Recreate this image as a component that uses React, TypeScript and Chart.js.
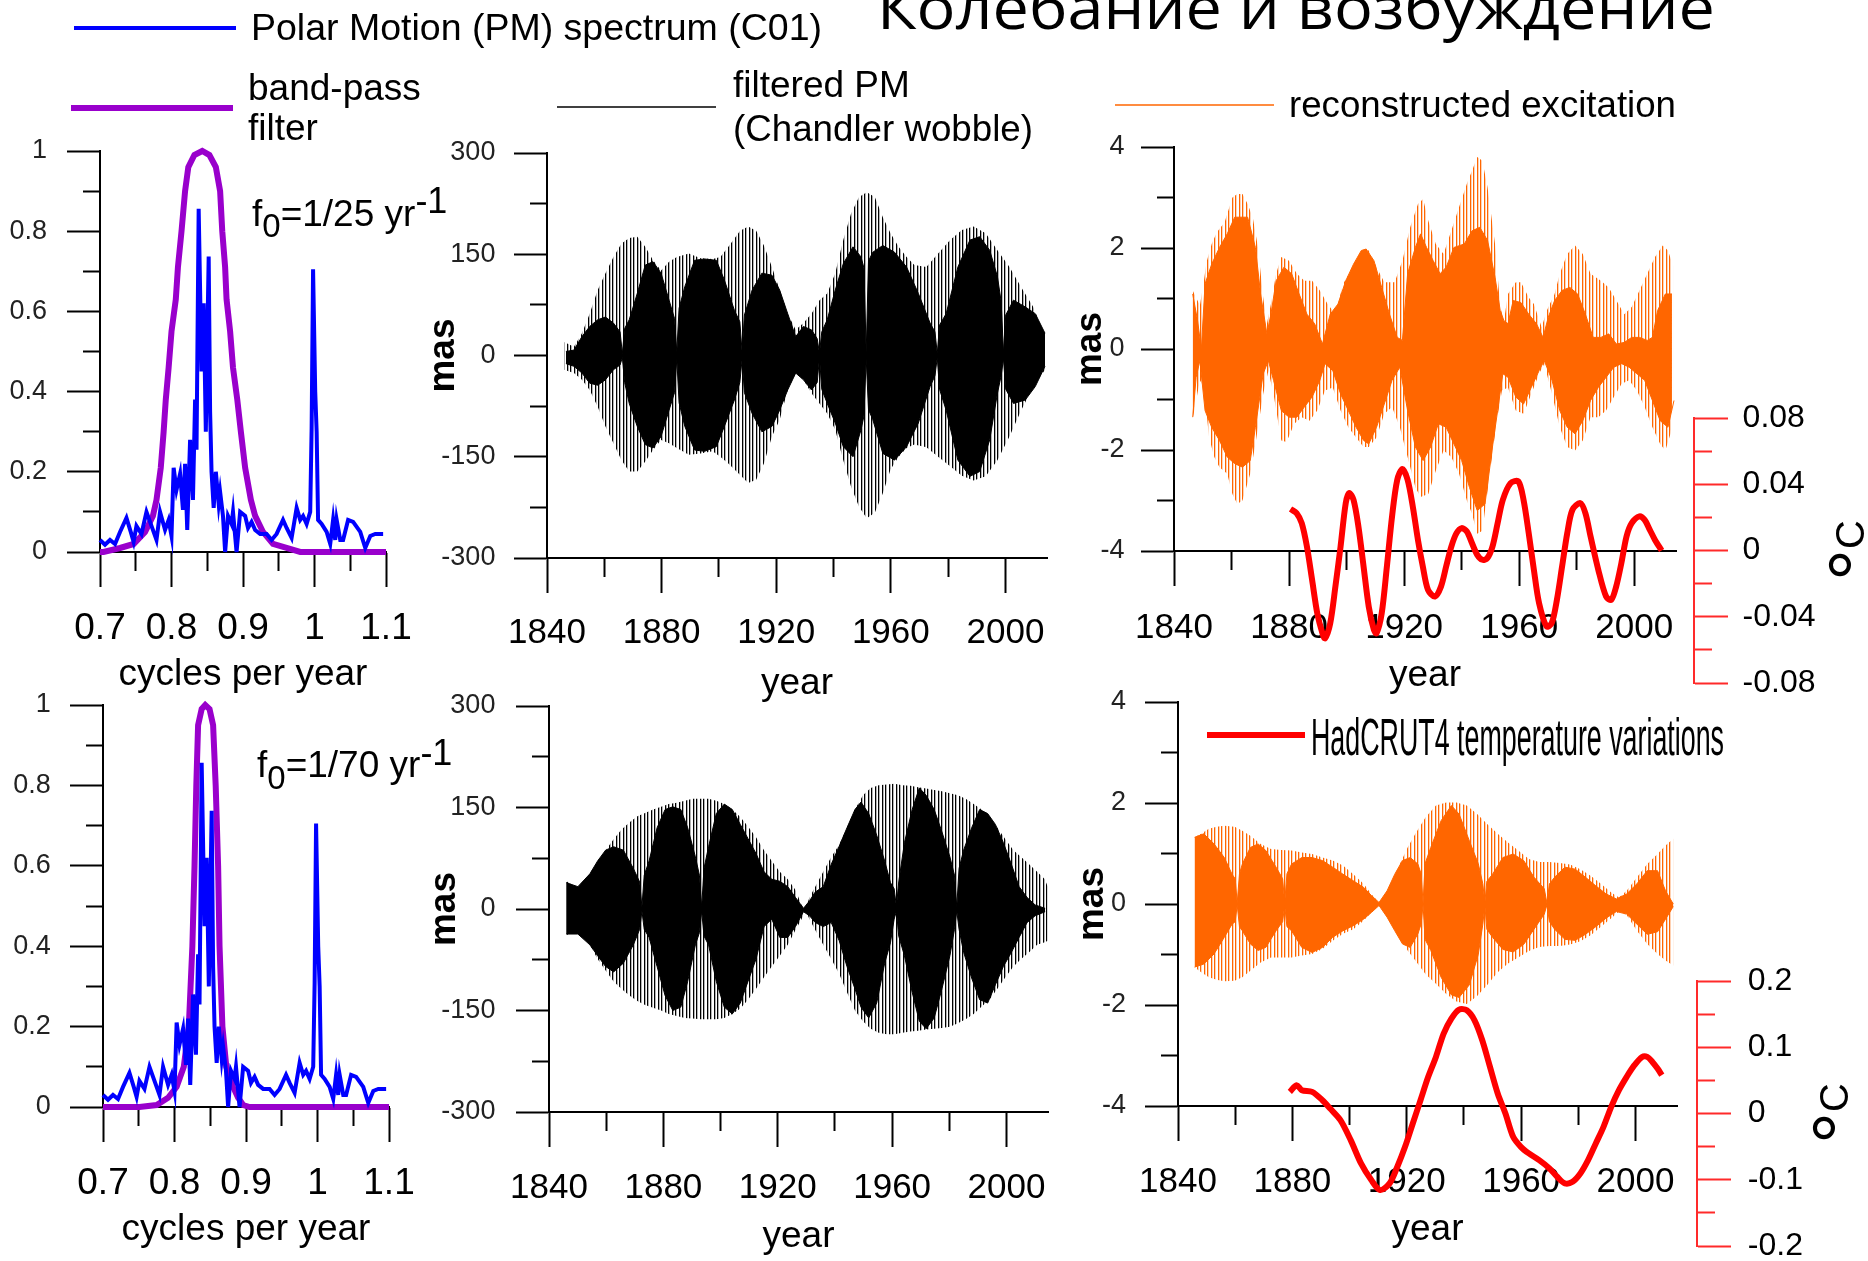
import React, { useEffect, useRef } from 'react';
import { Chart, registerables } from 'chart.js';

Chart.register(...registerables);

// ================= DATA =================
// Polar motion spectrum (shared by both spectrum panels)
const spectrumFreq = [0.700,0.707,0.714,0.721,0.728,0.737,0.743,0.747,0.751,0.758,0.765,0.772,0.779,0.784,0.791,0.796,0.800,0.803,0.807,0.812,0.816,0.819,0.822,0.826,0.830,0.833,0.835,0.838,0.842,0.845,0.848,0.852,0.854,0.856,0.859,0.862,0.866,0.868,0.872,0.875,0.879,0.884,0.886,0.891,0.896,0.903,0.907,0.912,0.917,0.924,0.933,0.940,0.947,0.956,0.961,0.968,0.975,0.980,0.984,0.989,0.994,0.996,0.998,1.001,1.003,1.005,1.010,1.017,1.022,1.026,1.029,1.031,1.036,1.040,1.047,1.054,1.064,1.071,1.078,1.085,1.096];
const spectrumPower = [0.03,0.018,0.03,0.02,0.05,0.085,0.05,0.025,0.065,0.045,0.1,0.065,0.03,0.1,0.055,0.08,0.04,0.21,0.155,0.195,0.105,0.22,0.055,0.28,0.13,0.38,0.255,0.856,0.45,0.62,0.3,0.737,0.35,0.2,0.11,0.2,0.12,0.15,0.09,0.0,0.09,0.07,0.1,0.0,0.1,0.09,0.06,0.075,0.055,0.045,0.045,0.03,0.045,0.08,0.06,0.035,0.11,0.08,0.09,0.07,0.1,0.31,0.705,0.4,0.3,0.08,0.07,0.05,0.02,0.08,0.03,0.08,0.03,0.03,0.08,0.075,0.05,0.01,0.04,0.045,0.045];

// band-pass filters
const filter25Freq = [0.700,0.705,0.728,0.747,0.763,0.774,0.779,0.785,0.789,0.792,0.796,0.800,0.806,0.809,0.814,0.819,0.8235,0.832,0.843,0.853,0.862,0.868,0.871,0.875,0.877,0.882,0.886,0.892,0.897,0.903,0.911,0.917,0.928,0.942,0.961,0.980,1.100];
const filter25Gain = [0,0,0.01,0.02,0.05,0.09,0.13,0.21,0.30,0.38,0.46,0.55,0.63,0.71,0.80,0.90,0.96,0.99,1.0,0.99,0.96,0.90,0.80,0.71,0.63,0.55,0.46,0.38,0.30,0.21,0.13,0.09,0.05,0.02,0.01,0,0];
const filter70Freq = [0.700,0.751,0.775,0.791,0.803,0.813,0.820,0.825,0.828,0.8305,0.833,0.838,0.843,0.849,0.854,0.8576,0.861,0.863,0.867,0.8725,0.882,0.889,0.896,0.905,1.100];
const filter70Gain = [0,0,0.005,0.023,0.05,0.1,0.2,0.4,0.6,0.8,0.95,0.99,1.0,0.99,0.95,0.8,0.6,0.4,0.2,0.1,0.05,0.023,0.005,0,0];

// filtered PM, f0 = 1/25 (outer hatched envelope, inner solid envelope), mas
const pm25OuterYears = [1845.9,1849.4,1852.2,1854.9,1857.7,1860.4,1863.2,1866.0,1868.7,1871.5,1874.3,1877.0,1879.8,1882.6,1885.3,1889.5,1893.6,1897.8,1900.5,1903.3,1907.4,1910.2,1913.0,1915.7,1918.5,1921.2,1924.0,1926.8,1929.5,1932.3,1935.1,1937.8,1940.6,1943.4,1946.1,1948.9,1951.6,1954.4,1957.2,1959.9,1962.7,1965.5,1968.2,1972.4,1976.5,1980.7,1984.8,1988.9,1993.1,1997.2,2001.4,2005.5,2009.7,2013.8];
const pm25OuterHigh = [20,13,33,62,97,122,146,166,174,176,161,141,126,139,146,151,144,143,146,161,185,191,185,163,131,97,62,38,48,62,82,92,122,171,210,235,242,235,205,181,161,146,134,131,151,171,186,191,181,156,131,101,72,28];
const pm25OuterLow = [-21,-26,-36,-51,-76,-105,-130,-155,-172,-172,-157,-140,-125,-130,-137,-147,-145,-142,-150,-160,-177,-189,-184,-160,-120,-95,-51,-26,-36,-56,-71,-86,-110,-155,-194,-224,-241,-233,-204,-169,-150,-137,-132,-136,-150,-164,-178,-185,-179,-155,-120,-81,-46,-21];
const pm25InnerYears = [1846.6,1849.4,1852.2,1854.9,1857.7,1860.4,1863.2,1865.5,1866.3,1867.1,1868.7,1871.5,1874.3,1877.0,1879.8,1882.6,1884.5,1885.3,1886.1,1888.1,1891.5,1895.0,1899.1,1901.9,1905.4,1907.3,1908.1,1908.9,1911.6,1915.0,1918.5,1921.2,1924.0,1926.8,1929.5,1932.3,1934.3,1935.1,1935.9,1937.8,1940.6,1943.4,1946.8,1949.6,1950.6,1951.4,1952.2,1953.7,1957.2,1961.3,1965.5,1969.6,1973.7,1975.4,1976.2,1977.0,1979.3,1983.4,1987.6,1991.0,1994.5,1997.2,1998.5,1999.3,2000.1,2002.8,2006.9,2010.4,2013.8];
const pm25InnerHigh = [6,8,28,43,53,57,48,35,3,40,53,92,134,139,122,82,55,5,70,102,141,143,141,112,67,50,5,60,97,122,119,97,62,28,43,38,25,3,35,53,97,136,161,146,130,5,140,153,163,153,131,92,48,35,3,45,62,131,171,176,156,117,80,5,60,82,72,62,33];
const pm25InnerLow = [-12,-16,-26,-41,-44,-36,-21,-14,-3,-40,-71,-105,-132,-137,-120,-81,-55,-5,-70,-105,-140,-142,-135,-105,-66,-40,-5,-55,-86,-113,-105,-81,-51,-26,-36,-51,-40,-3,-50,-71,-100,-135,-150,-110,-90,-5,-80,-95,-145,-155,-135,-100,-46,-30,-3,-50,-81,-155,-179,-172,-125,-56,-30,-5,-50,-71,-66,-46,-16];

// filtered PM, f0 = 1/70, mas
const pm70OuterYears = [1846.0,1848.0,1850.1,1852.2,1854.3,1857.0,1859.8,1862.6,1865.3,1868.1,1870.9,1873.6,1876.4,1879.2,1881.9,1884.7,1887.5,1890.2,1893.0,1895.8,1898.5,1901.3,1904.1,1906.9,1909.6,1912.4,1915.2,1917.9,1920.7,1923.5,1926.2,1928.3,1929.7,1931.1,1933.1,1935.9,1938.7,1941.5,1944.2,1947.0,1949.8,1952.5,1955.3,1958.1,1960.8,1963.6,1966.4,1969.1,1971.9,1974.7,1977.4,1980.2,1983.0,1985.7,1988.5,1991.3,1994.0,1996.8,1999.6,2002.4,2005.1,2007.9,2010.7,2013.4,2014.4];
const pm70OuterHigh = [41.5,36,33,41,52,71,87,103,117,128,137,142,147,151,155,157,160,163,163,163,160,155,147,136,122,106,87,71,55,44,28,6,1,17,33,55,77,95,120,147,168,179,183,184,185,183,182,180,178,176,174,171,168,163,155,147,133,120,103,87,77,66,55,44,33];
const pm70OuterLow = [-39,-34,-37,-42,-53,-74,-91,-107,-118,-128,-136,-142,-146,-150,-155,-158,-161,-162,-163,-163,-163,-161,-155,-147,-134,-118,-101,-85,-69,-53,-31,-15,-2,-15,-31,-53,-74,-96,-123,-150,-166,-177,-183,-185,-185,-183,-181,-180,-178,-177,-176,-174,-169,-163,-155,-144,-134,-118,-101,-85,-74,-64,-53,-49,-47];
const pm70InnerYears = [1846.0,1850.1,1854.3,1857.0,1859.8,1862.6,1866.0,1869.5,1871.7,1872.5,1873.3,1875.0,1877.8,1880.6,1883.3,1886.1,1888.5,1891.2,1892.6,1893.4,1894.2,1895.8,1898.5,1901.3,1904.1,1906.9,1909.6,1912.4,1915.2,1917.9,1920.7,1923.5,1926.2,1929.0,1931.1,1933.1,1935.9,1938.7,1941.5,1944.2,1947.0,1949.1,1951.8,1954.6,1957.4,1959.4,1960.7,1961.5,1962.3,1964.3,1967.0,1969.5,1971.9,1974.7,1977.4,1980.2,1981.8,1982.6,1983.4,1985.0,1987.8,1990.6,1993.4,1996.1,1998.9,2001.7,2004.4,2007.2,2010.0,2013.5];
const pm70InnerHigh = [39,33,52,71,87,92,87,60,40,3,50,71,120,147,151,147,120,77,50,3,60,92,141,155,147,125,104,82,55,44,41,33,17,1,12,25,33,66,93,120,147,158,141,109,71,39,30,3,40,98,147,179,168,147,114,77,50,3,60,87,120,147,141,125,98,66,33,17,6,1];
const pm70InnerLow = [-37,-37,-53,-69,-85,-93,-80,-53,-30,-3,-30,-42,-85,-128,-150,-145,-107,-53,-35,-3,-40,-53,-107,-145,-155,-139,-107,-74,-26,-15,-42,-42,-26,-4,-10,-20,-26,-20,-47,-85,-118,-145,-161,-139,-80,-50,-15,-3,-40,-69,-123,-166,-177,-161,-118,-69,-30,-3,-30,-64,-102,-134,-139,-112,-85,-64,-42,-20,-10,-4];

// reconstructed excitation, f0 = 1/25, mas
const exc25OuterHighYears = [1846.5,1849.0,1850.4,1851.3,1853.1,1854.9,1857.6,1860.3,1862.0,1863.8,1865.6,1867.4,1869.2,1871.0,1872.3,1873.7,1875.5,1877.3,1880.0,1882.7,1885.3,1888.0,1890.7,1893.4,1896.1,1898.8,1901.5,1904.2,1906.3,1907.7,1910.4,1913.1,1916.7,1919.4,1922.1,1924.8,1926.6,1928.4,1931.0,1933.7,1936.4,1939.1,1941.8,1943.6,1945.4,1947.2,1949.0,1951.6,1953.4,1954.7,1956.1,1958.8,1960.6,1963.3,1965.1,1967.8,1969.6,1972.3,1974.1,1976.7,1979.4,1982.1,1984.8,1988.4,1991.1,1993.8,1996.5,1999.1,2001.8,2004.5,2007.2,2009.9,2011.7,2013.5];
const exc25OuterHigh = [1.16,0.86,1.35,1.72,2.08,2.31,2.51,3.0,3.07,3.07,2.87,2.6,2.01,1.02,0.5,0.89,1.49,1.82,1.75,1.49,1.35,1.35,1.16,0.89,0.69,1.29,1.55,1.82,1.98,1.95,1.62,1.32,1.32,1.75,2.41,2.87,2.97,2.54,2.08,1.88,2.34,2.81,3.27,3.53,3.8,3.73,3.2,2.08,0.83,0.56,1.09,1.32,1.32,1.02,0.89,0.43,0.76,1.09,1.49,1.88,2.05,1.88,1.49,1.35,1.22,0.96,0.69,0.83,1.16,1.49,1.82,2.05,1.95,1.65];
const exc25OuterLowYears = [1846.5,1847.7,1849.0,1850.4,1852.2,1854.0,1855.8,1858.5,1860.3,1862.0,1863.8,1866.5,1868.3,1871.0,1872.8,1874.6,1877.3,1879.1,1881.8,1884.4,1887.1,1889.8,1892.5,1895.2,1897.9,1900.6,1903.3,1905.9,1907.7,1910.4,1913.1,1915.8,1918.5,1921.2,1923.9,1925.7,1928.4,1931.0,1933.7,1936.4,1939.1,1941.8,1943.6,1945.4,1947.2,1949.9,1952.2,1954.0,1956.1,1958.8,1961.5,1964.2,1966.9,1968.7,1971.4,1974.1,1976.7,1979.4,1982.1,1984.8,1987.5,1990.2,1992.9,1995.6,1998.2,2000.9,2003.6,2006.3,2009.0,2010.8,2012.6,2013.8];
const exc25OuterLow = [-1.38,-1.02,-0.62,-0.76,-1.75,-2.14,-2.34,-2.47,-2.87,-3.07,-3.0,-2.47,-1.88,-0.89,-0.43,-0.89,-1.81,-1.84,-1.48,-1.35,-1.42,-1.22,-0.82,-0.76,-1.22,-1.55,-1.75,-1.94,-1.94,-1.75,-1.28,-1.15,-1.55,-2.14,-2.74,-2.93,-2.87,-2.41,-2.01,-2.14,-2.47,-3.0,-3.26,-3.66,-3.6,-2.41,-1.42,-0.82,-0.76,-1.22,-1.28,-0.89,-0.49,-0.29,-0.89,-1.55,-1.94,-2.01,-1.81,-1.35,-1.35,-1.22,-0.95,-0.69,-0.62,-0.82,-1.15,-1.55,-1.88,-2.01,-1.68,-1.09];
const exc25InnerHighYears = [1846.5,1848.2,1849.5,1850.8,1853.1,1855.8,1858.5,1861.1,1862.9,1865.6,1868.3,1870.1,1872.3,1873.7,1875.5,1878.2,1880.9,1883.5,1886.2,1888.9,1891.6,1894.3,1897.0,1899.7,1902.4,1905.1,1906.8,1909.5,1912.2,1914.9,1917.6,1919.4,1921.2,1923.9,1925.7,1927.8,1930.1,1932.5,1934.6,1937.3,1940.9,1943.6,1946.3,1949.0,1951.6,1953.4,1954.7,1956.1,1957.9,1960.6,1963.3,1966.0,1968.3,1970.1,1972.3,1974.9,1977.6,1980.3,1983.0,1985.7,1988.4,1991.1,1993.8,1996.5,1999.1,2001.8,2004.5,2006.3,2008.1,2010.8,2013.1];
const exc25InnerHigh = [1.09,0.56,0.0,1.29,1.68,2.01,2.28,2.61,2.61,2.61,2.01,1.09,0.3,0.69,1.35,1.62,1.49,1.09,0.69,0.5,0.1,0.69,0.89,1.35,1.68,1.95,1.98,1.75,1.22,0.69,0.23,0.17,1.49,2.01,2.28,2.01,1.75,1.49,1.62,2.01,2.08,2.34,2.41,2.15,1.42,0.76,0.56,0.5,0.96,0.92,0.69,0.5,0.23,0.63,0.96,1.16,1.22,1.09,0.69,0.23,0.23,0.3,0.1,0.13,0.23,0.23,0.17,0.23,0.76,1.09,1.09];
const exc25InnerLowYears = [1846.5,1847.7,1849.0,1850.8,1853.1,1855.8,1858.5,1861.1,1863.8,1866.5,1868.3,1871.0,1872.8,1874.6,1877.3,1880.0,1882.7,1885.3,1888.0,1890.7,1892.5,1895.2,1897.9,1900.6,1903.3,1905.9,1907.7,1910.4,1913.1,1915.8,1918.5,1921.2,1923.9,1926.6,1929.2,1931.9,1934.6,1937.3,1940.0,1942.7,1945.4,1948.1,1950.8,1952.5,1954.3,1956.1,1958.8,1961.5,1964.2,1966.9,1968.7,1971.4,1974.1,1976.7,1979.4,1982.1,1984.8,1987.5,1990.2,1992.9,1995.6,1998.2,2000.9,2003.6,2006.3,2009.0,2011.7,2013.8];
const exc25InnerLow = [-1.35,-0.56,-0.23,-1.22,-1.55,-1.81,-2.14,-2.27,-2.34,-2.21,-1.55,-0.49,-0.23,-0.62,-1.22,-1.35,-1.35,-1.15,-0.95,-0.62,-0.29,-0.43,-0.89,-1.22,-1.55,-1.81,-1.88,-1.55,-1.09,-0.62,-0.36,-1.22,-1.94,-2.21,-1.94,-1.48,-1.55,-1.88,-2.21,-2.74,-3.2,-3.07,-1.9,-1.22,-0.49,-0.56,-0.95,-1.09,-0.76,-0.43,-0.23,-0.62,-1.22,-1.55,-1.68,-1.42,-1.02,-0.76,-0.56,-0.36,-0.29,-0.36,-0.49,-0.62,-1.02,-1.42,-1.55,-1.02];

// reconstructed excitation, f0 = 1/70, mas
const exc70OuterYears = [1845.8,1848.1,1850.8,1853.5,1856.2,1859.8,1862.5,1865.3,1868.9,1872.5,1876.1,1879.7,1883.3,1886.9,1890.5,1894.1,1897.7,1901.3,1904.9,1907.6,1910.3,1912.1,1914.9,1917.6,1920.3,1923.0,1926.6,1930.2,1933.8,1937.4,1941.0,1944.6,1948.2,1951.8,1955.4,1959.0,1962.7,1966.3,1969.9,1973.5,1977.1,1980.7,1984.3,1987.9,1991.5,1994.2,1996.9,2000.5,2004.1,2007.7,2010.5,2013.2];
const exc70OuterHigh = [1.32,1.39,1.49,1.53,1.55,1.53,1.45,1.35,1.19,1.09,1.07,1.06,1.02,0.99,0.92,0.86,0.76,0.59,0.4,0.2,0.03,0.13,0.46,0.79,1.12,1.39,1.72,1.95,2.01,2.01,1.95,1.78,1.58,1.39,1.22,1.06,0.89,0.83,0.83,0.81,0.78,0.69,0.56,0.4,0.23,0.13,0.26,0.53,0.79,0.99,1.16,1.29];
const exc70OuterLow = [-1.25,-1.35,-1.45,-1.5,-1.53,-1.52,-1.45,-1.32,-1.16,-1.06,-1.06,-1.06,-1.02,-0.99,-0.89,-0.73,-0.59,-0.5,-0.33,-0.17,-0.03,-0.13,-0.4,-0.66,-0.92,-1.12,-1.39,-1.58,-1.78,-1.93,-1.98,-1.82,-1.6,-1.35,-1.18,-1.06,-0.93,-0.85,-0.83,-0.83,-0.8,-0.74,-0.62,-0.45,-0.28,-0.15,-0.22,-0.53,-0.79,-0.99,-1.12,-1.22];
const exc70InnerYears = [1845.8,1849.0,1852.6,1856.2,1858.9,1860.0,1860.7,1861.5,1862.5,1865.3,1868.0,1870.7,1874.3,1876.6,1877.3,1878.1,1879.7,1883.3,1886.9,1890.5,1894.1,1897.7,1901.3,1904.9,1907.6,1910.3,1913.1,1915.8,1918.5,1921.2,1923.9,1925.0,1925.7,1926.4,1928.4,1932.0,1935.6,1938.3,1941.9,1945.0,1946.6,1947.3,1948.0,1950.0,1953.6,1957.2,1960.9,1964.5,1968.1,1969.0,1969.9,1971.7,1975.3,1978.9,1982.5,1986.1,1989.7,1993.3,1996.9,2000.5,2004.1,2007.7,2010.5,2013.2];
const exc70InnerHigh = [1.32,1.39,1.19,0.92,0.59,0.5,0.02,0.6,0.79,1.12,1.19,1.06,0.73,0.5,0.02,0.6,0.79,0.92,0.92,0.86,0.73,0.59,0.46,0.33,0.17,0.03,0.26,0.59,0.86,0.92,0.79,0.6,0.02,0.8,1.12,1.65,1.95,1.78,1.25,0.8,0.4,0.02,0.45,0.59,0.92,0.99,0.86,0.53,0.3,0.02,0.4,0.53,0.73,0.69,0.53,0.36,0.2,0.1,0.2,0.4,0.66,0.66,0.26,0.0];
const exc70InnerLow = [-1.25,-1.19,-0.99,-0.66,-0.4,-0.35,-0.02,-0.45,-0.53,-0.79,-0.92,-0.86,-0.53,-0.35,-0.02,-0.45,-0.53,-0.86,-0.96,-0.86,-0.66,-0.53,-0.43,-0.3,-0.17,-0.03,-0.26,-0.53,-0.79,-0.86,-0.59,-0.4,-0.02,-0.7,-0.92,-1.45,-1.8,-1.85,-1.6,-1.0,-0.4,-0.02,-0.5,-0.66,-0.9,-0.95,-0.8,-0.5,-0.2,-0.02,-0.35,-0.5,-0.7,-0.72,-0.6,-0.45,-0.28,-0.15,-0.2,-0.4,-0.6,-0.55,-0.3,-0.05];

// HadCRUT4 temperature variations, degC
const temp25Years = [1880.5,1882.6,1884.4,1886.2,1888.0,1889.8,1891.6,1892.5,1894.3,1896.1,1897.9,1899.7,1900.9,1902.4,1904.1,1905.9,1907.7,1909.5,1910.4,1912.2,1914.0,1915.8,1917.6,1919.4,1921.2,1923.0,1924.8,1926.5,1928.3,1930.7,1932.8,1934.6,1936.4,1938.2,1940.0,1941.8,1943.6,1945.4,1947.2,1948.9,1950.7,1952.5,1954.3,1957.0,1959.7,1961.5,1963.3,1965.1,1966.9,1969.5,1971.3,1973.1,1974.9,1976.7,1978.5,1981.2,1983.0,1984.8,1987.5,1990.2,1992.0,1993.7,1995.5,1997.3,1999.1,2001.8,2003.6,2005.4,2007.2,2009.5];
const temp25Values = [0.025,0.0226,0.0165,0.0024,-0.0177,-0.0379,-0.05,-0.053,-0.044,-0.0218,0.0024,0.0286,0.0347,0.0306,0.0145,-0.0097,-0.0339,-0.048,-0.05,-0.0379,-0.0097,0.0206,0.0427,0.0492,0.0427,0.0266,0.0064,-0.0097,-0.0238,-0.0278,-0.0218,-0.0097,0.0024,0.0105,0.0135,0.0115,0.0044,-0.0026,-0.0056,-0.0046,0.0024,0.0165,0.0306,0.0407,0.0417,0.0306,0.0105,-0.0117,-0.0318,-0.0459,-0.0439,-0.0298,-0.0097,0.0105,0.0246,0.0286,0.0226,0.0085,-0.0117,-0.0278,-0.0298,-0.0218,-0.0077,0.0085,0.0165,0.0206,0.0185,0.0125,0.0064,0.0];
const temp70Years = [1879.1,1881.5,1883.3,1886.9,1890.5,1893.2,1896.8,1900.4,1904.0,1907.6,1910.7,1914.0,1916.7,1919.4,1922.1,1924.8,1927.5,1930.2,1932.9,1935.6,1938.3,1941.0,1943.7,1946.4,1949.1,1951.8,1954.5,1957.2,1959.9,1962.7,1966.3,1969.9,1972.6,1975.3,1978.0,1980.7,1983.4,1986.1,1988.8,1991.5,1994.2,1996.9,1999.6,2002.3,2004.1,2005.9,2007.7,2009.2];
const temp70Values = [0.0327,0.0427,0.0352,0.0327,0.0201,0.0075,-0.01,-0.0402,-0.0754,-0.1005,-0.1156,-0.1055,-0.0804,-0.0503,-0.0151,0.0201,0.0553,0.0854,0.1206,0.1432,0.1568,0.1558,0.1407,0.1106,0.0704,0.0302,0.0,-0.0352,-0.0503,-0.0603,-0.0704,-0.0829,-0.0955,-0.1055,-0.103,-0.0905,-0.0704,-0.0452,-0.0201,0.0101,0.0352,0.0553,0.0729,0.0854,0.0854,0.0779,0.0678,0.0578];

// ticks
const freqTicks = [0.7,0.75,0.8,0.85,0.9,0.95,1.0,1.05,1.1];
const freqMajor = [0.7,0.8,0.9,1.0,1.1];
const freqLabels = ['0.7','0.8','0.9','1','1.1'];
const gainTicks = [0,0.1,0.2,0.3,0.4,0.5,0.6,0.7,0.8,0.9,1.0];
const gainMajor = [0,0.2,0.4,0.6,0.8,1.0];
const gainLabels = ['0','0.2','0.4','0.6','0.8','1'];
const yearTicks = [1840,1860,1880,1900,1920,1940,1960,1980,2000];
const yearMajor = [1840,1880,1920,1960,2000];
const yearLabels = ['1840','1880','1920','1960','2000'];
const masTicks = [-300,-225,-150,-75,0,75,150,225,300];
const masMajor = [-300,-150,0,150,300];
const masLabels = ['-300','-150','0','150','300'];
const excTicks = [-4,-3,-2,-1,0,1,2,3,4];
const excMajor = [-4,-2,0,2,4];
const excLabels = ['-4','-2','0','2','4'];
const temp25Ticks = [-0.08,-0.06,-0.04,-0.02,0,0.02,0.04,0.06,0.08];
const temp25Major = [-0.08,-0.04,0,0.04,0.08];
const temp25Labels = ['-0.08','-0.04','0','0.04','0.08'];
const temp70Ticks = [-0.2,-0.15,-0.1,-0.05,0,0.05,0.1,0.15,0.2];
const temp70Major = [-0.2,-0.1,0,0.1,0.2];
const temp70Labels = ['-0.2','-0.1','0','0.1','0.2'];

// ================= STYLE / LAYOUT =================
const W = 1868;
const H = 1261;
const FONT = "'Liberation Sans', Arial, Helvetica, sans-serif";
const TITLE_FONT = "'Open Sans', 'Noto Sans', sans-serif";
const BLUE = '#0000ff';
const PURPLE = '#9900cc';
const ORANGE = '#ff6600';
const RED = '#ff0000';
const RED_AXIS = '#ff2a2a';

type Box = { l: number; t: number; r: number; b: number };
const BOX_TL: Box = { l: 100, t: 151, r: 386, b: 552 };
const BOX_BL: Box = { l: 103, t: 705, r: 389, b: 1107 };
const BOX_TM: Box = { l: 547, t: 153, r: 1047, b: 558 };
const BOX_BM: Box = { l: 549, t: 706, r: 1048, b: 1112 };
const BOX_TR: Box = { l: 1174, t: 147, r: 1676, b: 551 };
const BOX_BR: Box = { l: 1178, t: 702, r: 1677, b: 1106 };
const RED_TR: Box = { l: 1174, t: 418, r: 1694, b: 683 };
const RED_BR: Box = { l: 1178, t: 981, r: 1697, b: 1246 };
const YEAR_MIN = 1840;
const YEAR_MAX = 2014.5;

const near = (a: number, b: number) => Math.abs(a - b) < 1e-6;

interface AxisSpec {
  pos: 'left' | 'bottom' | 'right';
  min: number; max: number;
  ticks: number[]; major: number[]; labels: string[];
  tickLen: number; minorLen: number; pad: number;
  fontSize: number; labelColor: string; lineColor: string;
  size: number;
  title?: { text: string; size: number; bold?: boolean; pad: number };
}

function makeAxis(s: AxisSpec) {
  const isMajor = (v: number) => s.major.some((m) => near(m, v));
  const labelOf = (v: number) => {
    const i = s.major.findIndex((m) => near(m, v));
    return i >= 0 ? s.labels[i] : '';
  };
  const dash = s.pos === 'left' ? [0, s.tickLen - s.minorLen, s.minorLen, 1000] : [s.minorLen, 1000];
  return {
    type: 'linear',
    position: s.pos,
    min: s.min,
    max: s.max,
    bounds: 'data',
    afterBuildTicks: (sc: any) => {
      sc.ticks = s.ticks.map((v) => ({ value: v }));
    },
    afterFit: (sc: any) => {
      if (s.pos === 'bottom') sc.height = s.size;
      else sc.width = s.size;
      sc.paddingLeft = 0; sc.paddingRight = 0; sc.paddingTop = 0; sc.paddingBottom = 0;
    },
    ticks: {
      autoSkip: false, maxRotation: 0, minRotation: 0, padding: s.pad,
      color: s.labelColor, font: { family: FONT, size: s.fontSize },
      callback: (v: any) => labelOf(Number(v)),
    },
    grid: {
      drawOnChartArea: false, drawTicks: true, tickLength: s.tickLen, tickWidth: 2,
      tickColor: s.lineColor,
      tickBorderDash: (ctx: any) => (ctx && ctx.tick && !isMajor(ctx.tick.value) ? dash : []),
    },
    border: { display: true, color: s.lineColor, width: 2 },
    title: s.title
      ? {
          display: true, text: s.title.text, color: '#000',
          font: { family: FONT, size: s.title.size, weight: s.title.bold ? 'bold' : 'normal', lineHeight: 1.2 },
          padding: s.pos === 'bottom' ? { top: 0, bottom: s.title.pad } : { top: s.title.pad, bottom: 0 },
        }
      : { display: false },
  };
}

const xy = (xs: number[], ys: number[]) => xs.map((x, i) => ({ x, y: ys[i] }));

function lineDs(xs: number[], ys: number[], color: string, width: number, extra: any = {}) {
  return { data: xy(xs, ys), borderColor: color, borderWidth: width, pointRadius: 0, fill: false, tension: 0, clip: 8, ...extra };
}

function bandDs(hiX: number[], hi: number[], loX: number[], lo: number[], fill: any, edge: string, edgeW: number) {
  return [
    { data: xy(hiX, hi), borderColor: edge, borderWidth: edgeW, pointRadius: 0, fill: '+1', backgroundColor: fill, tension: 0 },
    { data: xy(loX, lo), borderColor: edge, borderWidth: edgeW, pointRadius: 0, fill: false, tension: 0 },
  ];
}

function makeHatch(color: string) {
  const c = document.createElement('canvas');
  c.width = 7; c.height = 4;
  const g = c.getContext('2d')!;
  g.fillStyle = color;
  g.globalAlpha = 1; g.fillRect(0, 0, 1, 4); g.fillRect(3, 0, 1, 4);
  g.globalAlpha = 0.3; g.fillRect(1, 0, 1, 4); g.fillRect(4, 0, 1, 4);
  return g.createPattern(c, 'repeat');
}

function baseOptions(padding: any, scales: any) {
  return {
    responsive: false, maintainAspectRatio: false, animation: false, devicePixelRatio: 1, events: [],
    layout: { padding },
    plugins: { legend: { display: false }, tooltip: { enabled: false }, title: { display: false }, filler: { propagate: false } },
    scales,
  };
}

const mainPadding = (b: Box, yW: number, xH: number) => ({ left: b.l - yW, top: b.t, right: W - b.r, bottom: H - b.b - xH });

function spectrumConfig(b: Box, fF: number[], fG: number[], xPad: number, yPad: number, tPad: number, xH: number) {
  return {
    type: 'line',
    data: { datasets: [lineDs(spectrumFreq, spectrumPower, BLUE, 4), lineDs(fF, fG, PURPLE, 6)] },
    options: baseOptions(mainPadding(b, 100, xH), {
      x: makeAxis({ pos: 'bottom', min: 0.7, max: 1.1, ticks: freqTicks, major: freqMajor, labels: freqLabels, tickLen: 35, minorLen: 18, pad: xPad, fontSize: 37, labelColor: '#000', lineColor: '#000', size: xH, title: { text: 'cycles per year', size: 37, pad: tPad } }),
      y: makeAxis({ pos: 'left', min: 0, max: 1, ticks: gainTicks, major: gainMajor, labels: gainLabels, tickLen: 33, minorLen: 17, pad: yPad, fontSize: 27, labelColor: '#222', lineColor: '#000', size: 100 }),
    }),
  };
}

function bandConfig(b: Box, bands: any[], yMin: number, yMax: number, yT: number[], yM: number[], yL: string[], xPad: number, yPad: number, xTitlePad: number, yTitlePad: number, yW: number, xH: number) {
  return {
    type: 'line',
    data: { datasets: bands },
    options: baseOptions(mainPadding(b, yW, xH), {
      x: makeAxis({ pos: 'bottom', min: YEAR_MIN, max: YEAR_MAX, ticks: yearTicks, major: yearMajor, labels: yearLabels, tickLen: 35, minorLen: 18, pad: xPad, fontSize: 35, labelColor: '#000', lineColor: '#000', size: xH, title: { text: 'year', size: 37, pad: xTitlePad } }),
      y: makeAxis({ pos: 'left', min: yMin, max: yMax, ticks: yT, major: yM, labels: yL, tickLen: 33, minorLen: 17, pad: yPad, fontSize: 27, labelColor: '#222', lineColor: '#000', size: yW, title: { text: 'mas', size: 37, bold: true, pad: yTitlePad } }),
    }),
  };
}

function tempConfig(main: Box, b: Box, xs: number[], ys: number[], yMin: number, yMax: number, yT: number[], yM: number[], yL: string[], pad: number) {
  const pxPerYear = (main.r - main.l) / (YEAR_MAX - YEAR_MIN);
  const xMax = YEAR_MIN + (b.r - b.l) / pxPerYear;
  const rW = 150;
  return {
    type: 'line',
    data: { datasets: [lineDs(xs, ys, RED, 6, { tension: 0.3, clip: 8 })] },
    options: baseOptions({ left: b.l, top: b.t, right: W - b.r - rW, bottom: H - b.b }, {
      x: { type: 'linear', display: false, min: YEAR_MIN, max: xMax, afterFit: (sc: any) => { sc.height = 0; sc.paddingLeft = 0; sc.paddingRight = 0; } },
      y: makeAxis({ pos: 'right', min: yMin, max: yMax, ticks: yT, major: yM, labels: yL, tickLen: 34, minorLen: 17, pad, fontSize: 32, labelColor: '#000', lineColor: RED_AXIS, size: rW }),
    }),
  };
}

const builders: Array<() => any> = [
  () => spectrumConfig(BOX_TL, filter25Freq, filter25Gain, 20, 20, 14.6, 160),
  () => spectrumConfig(BOX_BL, filter70Freq, filter70Gain, 19.4, 19.3, -4.8, 140),
  () => {
    const hatch = makeHatch('#000');
    return bandConfig(BOX_TM, [
      ...bandDs(pm25InnerYears, pm25InnerHigh, pm25InnerYears, pm25InnerLow, '#000', '#000', 1),
      ...bandDs(pm25OuterYears, pm25OuterHigh, pm25OuterYears, pm25OuterLow, hatch, 'rgba(0,0,0,0)', 1),
    ], -300, 300, masTicks, masMajor, masLabels, 19, 18.6, 12.1, 4.6, 130, 160);
  },
  () => {
    const hatch = makeHatch('#000');
    return bandConfig(BOX_BM, [
      ...bandDs(pm70InnerYears, pm70InnerHigh, pm70InnerYears, pm70InnerLow, '#000', '#000', 1),
      ...bandDs(pm70OuterYears, pm70OuterHigh, pm70OuterYears, pm70OuterLow, hatch, 'rgba(0,0,0,0)', 1),
    ], -300, 300, masTicks, masMajor, masLabels, 20, 20.6, -6.7, 3.6, 130, 140);
  },
  () => {
    const hatch = makeHatch(ORANGE);
    return bandConfig(BOX_TR, [
      ...bandDs(exc25InnerHighYears, exc25InnerHigh, exc25InnerLowYears, exc25InnerLow, ORANGE, ORANGE, 1),
      ...bandDs(exc25OuterHighYears, exc25OuterHigh, exc25OuterLowYears, exc25OuterLow, hatch, 'rgba(0,0,0,0)', 1),
    ], -4, 4, excTicks, excMajor, excLabels, 21.7, 16.6, 13, 4.1, 110, 160);
  },
  () => {
    const hatch = makeHatch(ORANGE);
    return bandConfig(BOX_BR, [
      ...bandDs(exc70InnerYears, exc70InnerHigh, exc70InnerYears, exc70InnerLow, ORANGE, ORANGE, 1),
      ...bandDs(exc70OuterYears, exc70OuterHigh, exc70OuterYears, exc70OuterLow, hatch, 'rgba(0,0,0,0)', 1),
    ], -4, 4, excTicks, excMajor, excLabels, 20.5, 19, -6.2, 2.1, 110, 140);
  },
  () => tempConfig(BOX_TR, RED_TR, temp25Years, temp25Values, -0.08, 0.08, temp25Ticks, temp25Major, temp25Labels, 14.6),
  () => tempConfig(BOX_BR, RED_BR, temp70Years, temp70Values, -0.2, 0.2, temp70Ticks, temp70Major, temp70Labels, 16.8),
];

function ChartLayer({ build }: { build: () => any }) {
  const ref = useRef<HTMLCanvasElement>(null);
  useEffect(() => {
    const chart = new Chart(ref.current as HTMLCanvasElement, build());
    return () => chart.destroy();
  }, [build]);
  return (
    <canvas ref={ref} width={W} height={H}
      style={{ position: 'absolute', left: 0, top: 0, width: W, height: H }} />
  );
}

function Degree({ x, y }: { x: number; y: number }) {
  return (
    <text transform={`translate(${x},${y}) rotate(-90)`} x={0} y={0} fill="#000">
      <tspan fontSize={80} dy={21}>°</tspan>
      <tspan fontSize={40} dy={-21}>C</tspan>
    </text>
  );
}

function Overlay() {
  return (
    <svg width={W} height={H} style={{ position: 'absolute', left: 0, top: 0 }} fontFamily={FONT} fill="#000">
      <text x={877} y={28.5} fontFamily={TITLE_FONT} fontSize={60} textLength={838} lengthAdjust="spacingAndGlyphs">Колебание и возбуждение</text>

      <line x1={74} y1={28} x2={236} y2={28} stroke={BLUE} strokeWidth={4} />
      <text x={251} y={40} fontSize={37} textLength={571} lengthAdjust="spacingAndGlyphs">Polar Motion (PM) spectrum (C01)</text>
      <line x1={71} y1={108} x2={233} y2={108} stroke={PURPLE} strokeWidth={6} />
      <text x={248} y={100} fontSize={37}>band-pass</text>
      <text x={248} y={140} fontSize={37}>filter</text>

      <line x1={557} y1={107} x2={716} y2={107} stroke="#000" strokeWidth={1.5} />
      <text x={733} y={97} fontSize={37}>filtered PM</text>
      <text x={733} y={141} fontSize={37} textLength={300} lengthAdjust="spacingAndGlyphs">(Chandler wobble)</text>

      <line x1={1115} y1={105} x2={1274} y2={105} stroke={ORANGE} strokeWidth={1.5} />
      <text x={1289} y={117} fontSize={37} textLength={387} lengthAdjust="spacingAndGlyphs">reconstructed excitation</text>

      <line x1={1207} y1={735} x2={1305} y2={735} stroke={RED} strokeWidth={6} />
      <text x={1311} y={755} fontSize={51} textLength={413} lengthAdjust="spacingAndGlyphs">HadCRUT4 temperature variations</text>

      <text x={252} y={226} fontSize={37}>
        f<tspan fontSize={33} dy={11}>0</tspan><tspan fontSize={37} dy={-11}>=1/25 yr</tspan><tspan fontSize={36} dy={-13}>-1</tspan>
      </text>
      <text x={257} y={777} fontSize={37}>
        f<tspan fontSize={33} dy={12}>0</tspan><tspan fontSize={37} dy={-12}>=1/70 yr</tspan><tspan fontSize={36} dy={-12}>-1</tspan>
      </text>

      <Degree x={1864} y={581} />
      <Degree x={1848} y={1144} />
    </svg>
  );
}

export default function App() {
  return (
    <div style={{ position: 'absolute', left: 0, top: 0, width: W, height: H, overflow: 'hidden', background: '#fff' }}>
      {builders.map((b, i) => (
        <ChartLayer key={i} build={b} />
      ))}
      <Overlay />
    </div>
  );
}
